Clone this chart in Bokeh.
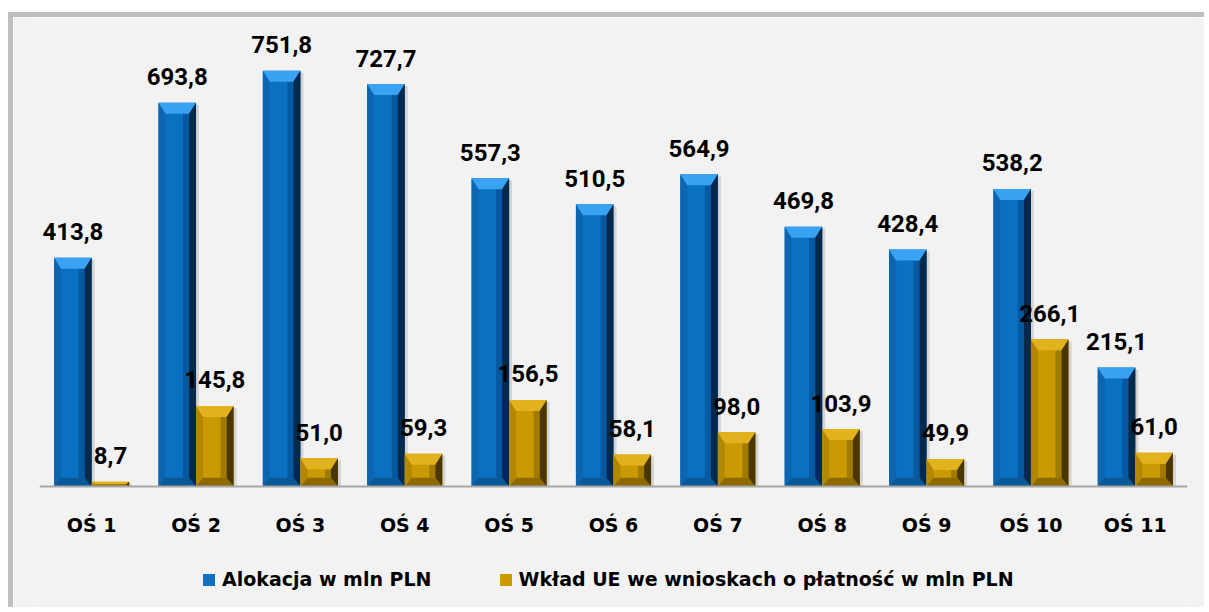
from bokeh.plotting import figure
from bokeh.models import (Range1d, FixedTicker, Legend, LegendItem, ColumnDataSource)
from bokeh.core.properties import value
from bokeh.embed import file_html
from bokeh.resources import INLINE

# ---------------- data ----------------
categories = ["OŚ 1", "OŚ 2", "OŚ 3", "OŚ 4", "OŚ 5", "OŚ 6",
              "OŚ 7", "OŚ 8", "OŚ 9", "OŚ 10", "OŚ 11"]
alokacja = [413.8, 693.8, 751.8, 727.7, 557.3, 510.5, 564.9, 469.8, 428.4, 538.2, 215.1]
wklad = [8.7, 145.8, 51.0, 59.3, 156.5, 58.1, 98.0, 103.9, 49.9, 266.1, 61.0]
series_names = ["Alokacja w mln PLN", "Wkład UE we wnioskach o płatność w mln PLN"]

# ---------------- layout ----------------
W, H = 1196, 595
BL, BR, BT, BB = 26, 22, 5, 0
frame_w = W - BL - BR
frame_h = H - BT - BB
x0, x1 = 0.5, 11.5
y0, y1 = -227.8, 839.1
px_x = frame_w / (x1 - x0)
px_y = frame_h / (y1 - y0)

p = figure(width=W, height=H, output_backend="svg", toolbar_location=None,
           x_range=Range1d(x0, x1), y_range=Range1d(y0, y1),
           min_border_left=BL, min_border_right=BR, min_border_top=BT,
           min_border_bottom=BB)
p.border_fill_color = "#f2f2f2"
p.background_fill_color = "#f2f2f2"
p.outline_line_color = None
p.grid.visible = False
p.yaxis.visible = False
p.styles = {"border-left": "5px solid #bfbfbf", "border-top": "5px solid #bfbfbf",
            "margin-left": "8px", "margin-top": "12px"}

bw = 0.36
bx = 7.0 / px_x
by_px = 11.0

styles = [
    dict(face="#0a70c2", top="#3aa2f2", left="#0d65b0", right="#03294d",
         strip="#0658a0", bottom="#0a5896"),
    dict(face="#c99a02", top="#e2b21e", left="#b38800", right="#4a3700",
         strip="#a17a00", bottom="#8c6a00"),
]

face_renderers = []
for si, (vals, off) in enumerate([(alokacja, -0.18), (wklad, 0.18)]):
    st = styles[si]
    lefts, rights, tops = [], [], []
    polys = {k: ([], []) for k in ["top", "bottom", "left", "right", "strip"]}
    sh_xs, sh_ys = [], []
    for i, v in enumerate(vals):
        c = i + 1 + off
        L, R, T = c - bw / 2, c + bw / 2, v
        lefts.append(L); rights.append(R); tops.append(T)
        by = min(by_px / px_y, T / 2)
        bxx = min(bx, by * px_y / px_x * 1.2, bw / 2)
        sh = 3.0 / px_x
        sh_xs.append([L + sh * 2, R + sh, R + sh, L + sh * 2])
        sh_ys.append([0, 0, T - 2.0 / px_y, T - 2.0 / px_y])
        polys["top"][0].append([L, R, R - bxx, L + bxx])
        polys["top"][1].append([T, T, T - by, T - by])
        polys["bottom"][0].append([L, R, R - bxx, L + bxx])
        polys["bottom"][1].append([0, 0, by * 0.8, by * 0.8])
        polys["left"][0].append([L, L, L + bxx, L + bxx])
        polys["left"][1].append([0, T, T - by, by * 0.8])
        polys["right"][0].append([R, R, R - bxx, R - bxx])
        polys["right"][1].append([0, T, T - by, by * 0.8])
        sw = 6.0 / px_x
        polys["strip"][0].append([R - bxx - sw, R - bxx, R - bxx, R - bxx - sw])
        polys["strip"][1].append([by * 0.8, by * 0.8, T - by, T - by])
    p.patches(sh_xs, sh_ys, fill_color="black", fill_alpha=0.12, line_color=None)
    r = p.quad(left=lefts, right=rights, top=tops, bottom=[0] * len(vals),
               fill_color=st["face"], line_color=None)
    face_renderers.append(r)
    for k in ["strip", "left", "bottom", "top", "right"]:
        xs, ys = polys[k]
        p.patches(xs, ys, fill_color=st[k], line_color=None)

    labels = [f"{v:.1f}".replace(".", ",") for v in vals]
    src = ColumnDataSource(dict(x=[i + 1 + off for i in range(len(vals))], y=vals, t=labels))
    p.text(x="x", y="y", text="t", source=src, text_align="center",
           text_baseline="alphabetic", y_offset=-26, text_font=value("Roboto"),
           text_font_style="bold", text_font_size="24px", text_color="black")

# x axis, fixed at y = 0 inside the frame
p.xaxis.fixed_location = 0
p.xaxis.ticker = FixedTicker(ticks=list(range(1, len(categories) + 1)))
p.xaxis.major_label_overrides = {i + 1: c for i, c in enumerate(categories)}
p.xaxis.major_tick_line_color = None
p.xaxis.minor_tick_line_color = None
p.xaxis.axis_line_color = "#a6a6a6"
p.xaxis.axis_line_width = 2
p.xaxis.major_label_standoff = 21
p.xaxis.major_label_text_font = "DejaVu Sans"
p.xaxis.major_label_text_font_style = "bold"
p.xaxis.major_label_text_font_size = "19px"
p.xaxis.major_label_text_color = "black"

legend = Legend(items=[LegendItem(label=series_names[0], renderers=[face_renderers[0]]),
                       LegendItem(label=series_names[1], renderers=[face_renderers[1]])],
                orientation="horizontal", location=(157, 17), spacing=66,
                label_standoff=6, glyph_width=15, glyph_height=15, label_height=20,
                label_text_font="DejaVu Sans", label_text_font_style="bold",
                label_text_font_size="19px", label_text_color="black",
                background_fill_alpha=0, border_line_alpha=0, margin=0, padding=5)
p.add_layout(legend)

open("out.html", "w").write(file_html(p, INLINE))
